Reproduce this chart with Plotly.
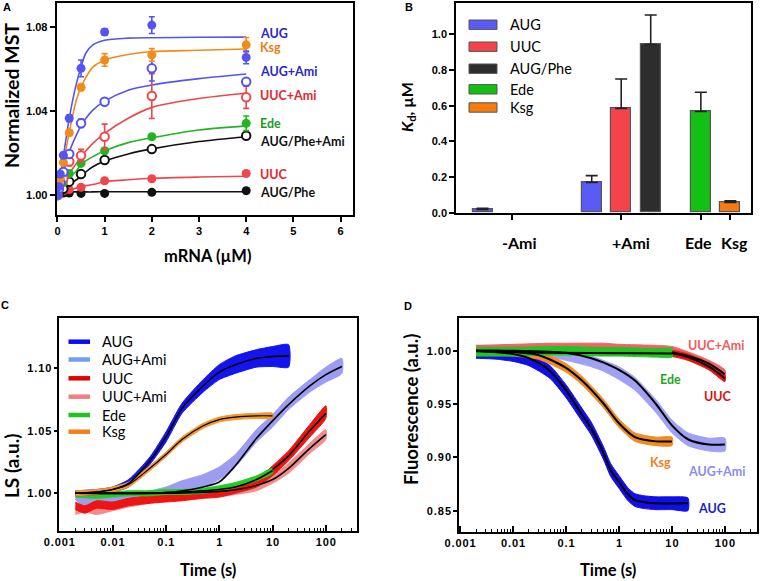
import plotly.graph_objects as go

W, H = 760, 581

# ---------------- Panel A data (MST titration) ----------------
conc = [0, 0.03, 0.06, 0.125, 0.25, 0.5, 1, 2, 4]
A_series = ["AUG", "Ksg", "AUG+Ami", "UUC+Ami", "Ede", "AUG/Phe+Ami", "UUC", "AUG/Phe"]
A_AUG = [1.000, 1.004, 1.010, 1.019, 1.0366, 1.0604, 1.0777, 1.0810, 1.0656]
A_AUG_err = [0.001, 0.001, 0.001, 0.001, 0.0015, 0.004, 0.0015, 0.004, 0.003]
A_Ksg = [1.000, 1.005, 1.008, 1.0156, 1.0297, 1.0514, 1.0644, 1.0668, 1.0716]
A_Ksg_err = [0.001, 0.001, 0.001, 0.001, 0.001, 0.0015, 0.003, 0.003, 0.0035]
A_AUGAmi = [1.000, 1.003, 1.006, 1.011, 1.0196, 1.0342, 1.0445, 1.0604, 1.0540]
A_AUGAmi_err = [0.001, 0.001, 0.001, 0.001, 0.001, 0.002, 0.0015, 0.006, 0.001]
A_UUCAmi = [1.000, 1.003, 1.006, 1.008, 1.0160, 1.0188, 1.0278, 1.0472, 1.0466]
A_UUCAmi_err = [0.001, 0.001, 0.001, 0.001, 0.002, 0.003, 0.006, 0.0107, 0.0053]
A_Ede = [1.000, 1.003, 1.005, 1.006, 1.0103, 1.0151, 1.0211, 1.0278, 1.0342]
A_Ede_err = [0.001, 0.001, 0.001, 0.001, 0.001, 0.001, 0.001, 0.001, 0.0035]
A_PheAmi = [1.000, 1.001, 1.002, 1.003, 1.0064, 1.0100, 1.0167, 1.0219, 1.0283]
A_PheAmi_err = [0.0005, 0.0005, 0.0005, 0.0005, 0.001, 0.001, 0.001, 0.001, 0.0015]
A_UUC = [1.000, 1.001, 1.0015, 1.002, 1.0026, 1.0037, 1.0068, 1.0078, 1.0103]
A_UUC_err = [0.0005, 0.0005, 0.0005, 0.0005, 0.0005, 0.0005, 0.0005, 0.0005, 0.0005]
A_Phe = [1.000, 1.0005, 1.001, 1.001, 1.001, 1.0008, 1.0008, 1.0013, 1.0021]
A_Phe_err = [0.0005, 0.0005, 0.0005, 0.0005, 0.0005, 0.0005, 0.0005, 0.0005, 0.0013]

fit_conc = [0, 0.1, 0.25, 0.4, 0.5, 0.6, 0.75, 1, 1.5, 2, 3, 4]
F_AUG = [1.000, 1.0145, 1.0366, 1.0530, 1.0610, 1.0676, 1.0716, 1.0738, 1.0748, 1.0750, 1.0752, 1.0753]
F_Ksg = [1.000, 1.0120, 1.0300, 1.0453, 1.0514, 1.0560, 1.0610, 1.0644, 1.0670, 1.0684, 1.0690, 1.0696]
F_AUGAmi = [1.000, 1.0085, 1.0205, 1.0286, 1.0330, 1.0365, 1.0405, 1.0448, 1.0500, 1.0525, 1.0555, 1.0577]
F_UUCAmi = [1.000, 1.0040, 1.0103, 1.0150, 1.0186, 1.0210, 1.0246, 1.0294, 1.0366, 1.0418, 1.0460, 1.0485]
F_Ede = [1.000, 1.0030, 1.0080, 1.0115, 1.0146, 1.0163, 1.0183, 1.0211, 1.0250, 1.0273, 1.0310, 1.0330]
F_PheAmi = [1.000, 1.0020, 1.0048, 1.0073, 1.0087, 1.0110, 1.0135, 1.0162, 1.0196, 1.0220, 1.0255, 1.0278]
F_UUC = [1.000, 1.0010, 1.0024, 1.0033, 1.0040, 1.0045, 1.0050, 1.0064, 1.0073, 1.0080, 1.0086, 1.0090]
F_Phe = [1.000, 1.0011, 1.0015, 1.0015, 1.0015, 1.0015, 1.0015, 1.0016, 1.0016, 1.0016, 1.0016, 1.0016]

# ---------------- Panel B data (Kd) ----------------
B_groups = ["-Ami", "+Ami", "Ede", "Ksg"]
B_series = ["AUG", "UUC", "AUG/Phe", "Ede", "Ksg"]
Kd_AUG = [0.018, 0.170]          # -Ami, +Ami
Kd_AUG_err = [0.007, 0.038]
Kd_UUC = [None, 0.585]
Kd_UUC_err = [None, 0.165]
Kd_Phe = [None, 0.943]
Kd_Phe_err = [None, 0.165]
Kd_Ede = [0.567]
Kd_Ede_err = [0.108]
Kd_Ksg = [0.058]
Kd_Ksg_err = [0.009]

# ---------------- Panel C data (light scattering) ----------------
C_t_AUG = [0.002, 0.005, 0.01, 0.02, 0.05, 0.1, 0.2, 0.5, 1, 2, 5, 10, 20]
C_AUG = [1.000, 1.001, 1.003, 1.008, 1.026, 1.045, 1.068, 1.086, 1.097, 1.103, 1.108, 1.1095, 1.110]
C_AUG_noise = [0.002, 0.002, 0.002, 0.003, 0.003, 0.004, 0.004, 0.005, 0.006, 0.007, 0.007, 0.008, 0.009]
C_t_Ksg = [0.002, 0.005, 0.01, 0.02, 0.05, 0.1, 0.2, 0.5, 1, 2, 5, 10]
C_Ksg = [1.000, 1.001, 1.003, 1.007, 1.020, 1.031, 1.043, 1.054, 1.059, 1.061, 1.062, 1.062]
C_Ksg_noise = [0.002, 0.002, 0.002, 0.002, 0.002, 0.002, 0.002, 0.002, 0.002, 0.002, 0.002, 0.002]
C_t_AUGAmi = [0.002, 0.003, 0.005, 0.01, 0.02, 0.05, 0.1, 0.2, 0.5, 1, 2, 5, 10, 20, 50, 100, 200]
C_AUGAmi = [0.998, 0.993, 0.995, 0.994, 0.996, 0.998, 1.001, 1.005, 1.010, 1.016, 1.026, 1.046, 1.058, 1.072, 1.086, 1.095, 1.102]
C_AUGAmi_noise = [0.003, 0.004, 0.004, 0.004, 0.004, 0.004, 0.004, 0.005, 0.005, 0.005, 0.005, 0.005, 0.005, 0.005, 0.005, 0.006, 0.006]
C_tfit_AUGAmi = [0.002, 0.1, 0.3, 0.5, 1, 2, 5, 10, 20, 50, 100, 200]
C_fit_AUGAmi = [1.000, 1.0005, 1.003, 1.005, 1.009, 1.022, 1.044, 1.058, 1.071, 1.086, 1.095, 1.1015]
C_t_UUC = [0.002, 0.003, 0.005, 0.01, 0.02, 0.05, 0.1, 0.2, 0.5, 1, 2, 5, 10, 20, 50, 100]
C_UUC = [0.990, 0.987, 0.991, 0.990, 0.993, 0.995, 0.996, 0.997, 0.999, 1.000, 1.003, 1.008, 1.018, 1.030, 1.050, 1.065]
C_UUC_noise = [0.003, 0.003, 0.003, 0.003, 0.003, 0.003, 0.003, 0.003, 0.003, 0.003, 0.003, 0.003, 0.004, 0.004, 0.005, 0.005]
C_tfit_UUC = [10, 20, 50, 100]
C_fit_UUC = [1.019, 1.030, 1.050, 1.064]
C_t_UUCAmi = [0.002, 0.003, 0.005, 0.01, 0.02, 0.05, 0.1, 0.2, 0.5, 1, 2, 5, 10, 20, 50, 100]
C_UUCAmi = [0.986, 0.988, 0.986, 0.989, 0.992, 0.995, 0.997, 0.998, 0.999, 1.000, 1.002, 1.005, 1.011, 1.020, 1.036, 1.047]
C_UUCAmi_noise = [0.003, 0.003, 0.003, 0.003, 0.003, 0.003, 0.003, 0.003, 0.003, 0.003, 0.003, 0.003, 0.003, 0.004, 0.004, 0.004]
C_tfit_UUCAmi = [0.002, 0.1, 1, 3, 10, 20, 50, 100]
C_fit_UUCAmi = [1.000, 1.000, 1.0015, 1.004, 1.011, 1.020, 1.036, 1.047]
C_t_Ede = [0.002, 0.005, 0.01, 0.02, 0.05, 0.1, 0.2, 0.5, 1, 2, 5, 10]
C_Ede = [0.999, 0.998, 0.999, 1.000, 1.000, 1.001, 1.001, 1.002, 1.004, 1.0066, 1.012, 1.018]
C_Ede_noise = [0.002, 0.002, 0.002, 0.002, 0.002, 0.002, 0.002, 0.002, 0.002, 0.002, 0.002, 0.002]
C_tfit_Ede = [0.002, 0.1, 0.5, 1, 2, 5, 10]
C_fit_Ede = [1.000, 1.0005, 1.002, 1.003, 1.005, 1.011, 1.018]

# ---------------- Panel D data (fluorescence) ----------------
D_t_AUG = [0.002, 0.005, 0.01, 0.02, 0.05, 0.1, 0.2, 0.3, 0.5, 0.7, 1, 1.5, 2, 3, 5, 10, 20]
D_AUG = [0.999, 0.998, 0.996, 0.992, 0.980, 0.962, 0.940, 0.927, 0.905, 0.888, 0.877, 0.865, 0.860, 0.858, 0.857, 0.857, 0.856]
D_AUG_noise = [0.006, 0.006, 0.006, 0.006, 0.006, 0.006, 0.006, 0.006, 0.006, 0.006, 0.006, 0.006, 0.006, 0.006, 0.006, 0.006, 0.006]
D_tfit_AUG = [0.002, 0.01, 0.02, 0.05, 0.1, 0.2, 0.3, 0.5, 0.7, 1, 1.5, 2, 3, 5, 20]
D_fit_AUG = [1.000, 0.997, 0.993, 0.981, 0.963, 0.940, 0.927, 0.905, 0.888, 0.877, 0.865, 0.860, 0.858, 0.857, 0.857]
D_t_Ksg = [0.002, 0.005, 0.01, 0.03, 0.1, 0.2, 0.5, 1, 2, 5, 10]
D_Ksg = [1.000, 1.000, 0.999, 0.996, 0.984, 0.972, 0.951, 0.932, 0.919, 0.915, 0.915]
D_Ksg_noise = [0.004, 0.004, 0.004, 0.004, 0.004, 0.004, 0.004, 0.004, 0.004, 0.004, 0.004]
D_t_AUGAmi = [0.002, 0.01, 0.05, 0.1, 0.3, 0.5, 1, 2, 5, 10, 20, 50, 100]
D_AUGAmi = [1.000, 0.999, 0.998, 0.996, 0.990, 0.986, 0.979, 0.969, 0.948, 0.929, 0.917, 0.912, 0.912]
D_AUGAmi_noise = [0.004, 0.004, 0.004, 0.005, 0.005, 0.005, 0.006, 0.006, 0.006, 0.006, 0.006, 0.006, 0.006]
D_fit_AUGAmi = [1.000, 1.000, 0.999, 0.998, 0.993, 0.989, 0.982, 0.972, 0.950, 0.930, 0.917, 0.912, 0.912]
D_t_Ede = [0.002, 0.01, 0.05, 0.1, 0.5, 1, 5, 10]
D_Ede = [0.999, 0.999, 1.000, 1.000, 0.999, 0.999, 0.998, 0.998]
D_Ede_noise = [0.004, 0.004, 0.004, 0.004, 0.004, 0.004, 0.004, 0.004]
D_tfit_Ede = [0.002, 0.05, 10]
D_fit_Ede = [0.9995, 0.998, 0.9975]
D_t_UUCAmi = [0.002, 0.01, 0.05, 0.1, 0.5, 1, 5, 10, 20, 50, 100]
D_UUCAmi = [1.001, 1.002, 1.003, 1.003, 1.003, 1.002, 1.001, 1.000, 0.995, 0.987, 0.978]
D_UUCAmi_noise = [0.004, 0.004, 0.004, 0.004, 0.004, 0.004, 0.004, 0.004, 0.004, 0.004, 0.004]
D_tfit_UUCAmi = [10, 20, 50, 100]
D_fit_UUCAmi = [0.9985, 0.995, 0.988, 0.978]
D_t_UUC = [0.002, 0.1, 1, 10, 20, 50, 100]
D_UUC = [1.000, 1.000, 0.999, 0.9975, 0.994, 0.985, 0.974]
D_UUC_noise = [0.003, 0.003, 0.003, 0.003, 0.003, 0.003, 0.003]
D_fit_UUC_t = [10, 20, 50, 100]
D_fit_UUC = [0.9975, 0.994, 0.985, 0.974]

log_ticks = [0.001, 0.01, 0.1, 1, 10, 100]
log_ticktext = ["0.001", "0.01", "0.1", "1", "10", "100"]
C_yticks = [1.00, 1.05, 1.10]
D_yticks = [0.85, 0.90, 0.95, 1.00]

# ---------------- styles ----------------
BLUE = "#5454f2"; ORANGE = "#f28a1c"; RED = "#f0464b"; GREEN = "#22b422"; BLACK = "#111111"
TXT_BLUE = "#2828c8"; TXT_ORANGE = "#e97f12"; TXT_RED = "#e3262c"; TXT_GREEN = "#1e9a1e"
TICKFONT = dict(family="Liberation Sans", size=11, color="black", weight="bold")
TITLEFONT = "Lato"
TS = "\u200a"  # hair space used to mimic the spaced tick digits of panels C and D


def spaced(s):
    return TS.join(list(s))


def px(x):
    return x / W


def py(y):
    return 1 - y / H


fig = go.Figure()

# ---------------- Panel A ----------------
A_specs = [
    (F_AUG, A_AUG, A_AUG_err, BLUE, False),
    (F_Ksg, A_Ksg, A_Ksg_err, ORANGE, False),
    (F_AUGAmi, A_AUGAmi, A_AUGAmi_err, BLUE, True),
    (F_UUCAmi, A_UUCAmi, A_UUCAmi_err, RED, True),
    (F_Ede, A_Ede, A_Ede_err, GREEN, False),
    (F_PheAmi, A_PheAmi, A_PheAmi_err, BLACK, True),
    (F_UUC, A_UUC, A_UUC_err, RED, False),
    (F_Phe, A_Phe, A_Phe_err, BLACK, False),
]
for fit, vals, err, col, is_open in A_specs:
    fig.add_trace(go.Scatter(x=fit_conc, y=fit, mode="lines", line=dict(color=col, width=1.6, shape="spline", smoothing=0.8),
                             xaxis="x", yaxis="y", showlegend=False, hoverinfo="skip"))
for fit, vals, err, col, is_open in reversed(A_specs):
    fig.add_trace(go.Scatter(
        x=conc, y=vals, mode="markers",
        marker=dict(symbol="circle", size=9 if not is_open else 8.5, color="white" if is_open else col,
                    line=dict(color=col, width=2 if is_open else 0)),
        error_y=dict(type="data", array=err, color=col, thickness=1.6, width=3),
        xaxis="x", yaxis="y", showlegend=False))

A_label_colors = [TXT_BLUE, TXT_ORANGE, TXT_BLUE, TXT_RED, TXT_GREEN, BLACK, TXT_RED, BLACK]
A_label_y = [1.0768, 1.0702, 1.0588, 1.0475, 1.0342, 1.0257, 1.0100, 1.0011]

# ---------------- Panel B ----------------
group_center = [1.9, 5.6, 8.3, 9.3]
slot = 1.0
bw = 0.68
B_specs = [
    ("AUG", Kd_AUG, Kd_AUG_err, [group_center[0] - slot, group_center[1] - slot], "#5a5af5"),
    ("UUC", Kd_UUC, Kd_UUC_err, [group_center[0], group_center[1]], "#f5434b"),
    ("AUG/Phe", Kd_Phe, Kd_Phe_err, [group_center[0] + slot, group_center[1] + slot], "#2d2d2d"),
    ("Ede", Kd_Ede, Kd_Ede_err, [group_center[2]], "#14c014"),
    ("Ksg", Kd_Ksg, Kd_Ksg_err, [group_center[3]], "#f57a10"),
]
for name, vals, err, xs, col in B_specs:
    fig.add_trace(go.Bar(
        x=xs, y=vals, width=bw, marker=dict(color=col, line=dict(color="#555555", width=1.2)),
        error_y=dict(type="data", symmetric=False, array=err, arrayminus=[0] * len(err), color="#222222",
                     thickness=1.6, width=6),
        xaxis="x2", yaxis="y2", showlegend=False))


# ---------------- Panel C ----------------
def band(t, c, n, col, xa, ya):
    up = [a + b for a, b in zip(c, n)]
    lo = [a - b for a, b in zip(c, n)]
    fig.add_trace(go.Scatter(x=list(t) + list(t)[::-1], y=up + lo[::-1], mode="lines", fill="toself",
                             fillcolor=col, line=dict(color=col, width=1, shape="spline", smoothing=0.6),
                             xaxis=xa, yaxis=ya, showlegend=False, hoverinfo="skip"))


def fitline(t, v, xa, ya, w=1.6):
    fig.add_trace(go.Scatter(x=t, y=v, mode="lines", line=dict(color="black", width=w, shape="spline", smoothing=0.8),
                             xaxis=xa, yaxis=ya, showlegend=False, hoverinfo="skip"))


C_cols = {"AUG": "#1414ee", "AUG+Ami": "#9c9cf2", "UUC": "#ee1414", "UUC+Ami": "#f28c8c",
          "Ede": "#22cc22", "Ksg": "#f5962a"}
band(C_t_AUGAmi, C_AUGAmi, C_AUGAmi_noise, C_cols["AUG+Ami"], "x3", "y3")
band(C_t_UUCAmi, C_UUCAmi, C_UUCAmi_noise, C_cols["UUC+Ami"], "x3", "y3")
band(C_t_UUC, C_UUC, C_UUC_noise, C_cols["UUC"], "x3", "y3")
band(C_t_Ede, C_Ede, C_Ede_noise, C_cols["Ede"], "x3", "y3")
band(C_t_AUG, C_AUG, C_AUG_noise, C_cols["AUG"], "x3", "y3")
band(C_t_Ksg, C_Ksg, C_Ksg_noise, C_cols["Ksg"], "x3", "y3")
fitline(C_tfit_AUGAmi, C_fit_AUGAmi, "x3", "y3")
fitline(C_tfit_UUCAmi, C_fit_UUCAmi, "x3", "y3")
fitline(C_tfit_UUC, C_fit_UUC, "x3", "y3")
fitline(C_tfit_Ede, C_fit_Ede, "x3", "y3")
fitline(C_t_AUG, C_AUG, "x3", "y3")
fitline(C_t_Ksg, C_Ksg, "x3", "y3", 1.2)

C_leg = ["AUG", "AUG+Ami", "UUC", "UUC+Ami", "Ede", "Ksg"]
C_leg_cols = ["#0a0aff", "#6fa0f0", "#e60000", "#f28080", "#21c121", "#f07f1a"]

# ---------------- Panel D ----------------
D_cols = {"AUG": "#1010e6", "AUG+Ami": "#a0a0f4", "UUC": "#e81414", "UUC+Ami": "#f26464",
          "Ede": "#22c422", "Ksg": "#f28c22"}
band(D_t_AUGAmi, D_AUGAmi, D_AUGAmi_noise, D_cols["AUG+Ami"], "x4", "y4")
band(D_t_AUG, D_AUG, D_AUG_noise, D_cols["AUG"], "x4", "y4")
band(D_t_Ksg, D_Ksg, D_Ksg_noise, D_cols["Ksg"], "x4", "y4")
band(D_t_UUCAmi, D_UUCAmi, D_UUCAmi_noise, D_cols["UUC+Ami"], "x4", "y4")
band(D_t_UUC, D_UUC, D_UUC_noise, D_cols["UUC"], "x4", "y4")
band(D_t_Ede, D_Ede, D_Ede_noise, D_cols["Ede"], "x4", "y4")
fitline(D_tfit_AUG, D_fit_AUG, "x4", "y4", 2)
fitline(D_t_Ksg, D_Ksg, "x4", "y4", 2)
fitline(D_t_AUGAmi, D_fit_AUGAmi, "x4", "y4", 2)
fitline(D_tfit_Ede, D_fit_Ede, "x4", "y4", 2)
fitline(D_tfit_UUCAmi, D_fit_UUCAmi, "x4", "y4", 2)
fitline(D_fit_UUC_t, D_fit_UUC, "x4", "y4", 2)

D_labels = ["UUC+Ami", "Ede", "UUC", "Ksg", "AUG+Ami", "AUG"]
D_label_cols = ["#f05a5a", "#1fa81f", "#dd1111", "#f0801e", "#8c8cee", "#1a1ad0"]
D_label_pos = [(686, 345), (658, 379), (701.5, 396.7), (648, 462.7), (686, 471.7), (696, 508.3)]

# ---------------- axes ----------------
base = dict(showgrid=False, zeroline=False, showline=True, linecolor="black", linewidth=1.6, mirror=True,
            tickfont=TICKFONT, ticks="outside", tickcolor="black", tickwidth=1.5, ticklen=5, automargin=False)
ov = dict(showgrid=False, zeroline=False, showline=False, showticklabels=False, ticks="inside",
          tickcolor="black", tickwidth=1.5, ticklen=5, automargin=False)

domA_x = [px(56.5), px(353.3)]; domA_y = [py(215), py(3.3)]
domB_x = [px(456), px(751)]; domB_y = [py(212.7), py(3.3)]
domC_x = [px(59.3), px(357.3)]; domC_y = [py(531), py(318.3)]
domD_x = [px(459), px(756.7)]; domD_y = [py(531.5), py(318.3)]

rangeA_x = [-0.02, 6.27]; rangeA_y = [0.9905, 1.0914]
rangeB_x = [0, 10]; rangeB_y = [0, 1.174]
rangeC_x = [-3, 2.59]; rangeC_y = [0.9698, 1.1401]
rangeD_x = [-3.02, 2.6]; rangeD_y = [0.8305, 1.0304]

logminor = dict(ticks="inside", ticklen=3, tickcolor="black", tickwidth=1.2, dtick="D1")

fig.update_layout(
    width=W, height=H, margin=dict(l=0, r=0, t=0, b=0, pad=0), paper_bgcolor="white", plot_bgcolor="white",
    showlegend=False, bargap=0,
    xaxis=dict(base, domain=domA_x, anchor="y", range=rangeA_x, tickvals=[0, 1, 2, 3, 4, 5, 6]),
    yaxis=dict(base, domain=domA_y, anchor="x", range=rangeA_y, tickvals=[1.00, 1.04, 1.08], tickformat=".2f"),
    xaxis5=dict(ov, overlaying="x", side="top", anchor="y", range=rangeA_x, tickvals=[0, 1, 2, 3, 4, 5, 6]),
    yaxis5=dict(ov, overlaying="y", side="right", anchor="x", range=rangeA_y, tickvals=[1.00, 1.04, 1.08]),

    xaxis2=dict(base, domain=domB_x, anchor="y2", range=rangeB_x, tickvals=group_center, showticklabels=False),
    yaxis2=dict(base, domain=domB_y, anchor="x2", range=rangeB_y, tickvals=[0, 0.2, 0.4, 0.6, 0.8, 1.0],
                tickformat=".1f"),
    yaxis6=dict(ov, overlaying="y2", side="right", anchor="x2", range=rangeB_y,
                tickvals=[0, 0.2, 0.4, 0.6, 0.8, 1.0]),

    xaxis3=dict(base, domain=domC_x, anchor="y3", type="log", range=rangeC_x, tickvals=log_ticks,
                ticktext=[spaced(s) for s in log_ticktext], ticks="inside", ticklen=6, minor=logminor),
    yaxis3=dict(base, domain=domC_y, anchor="x3", range=rangeC_y, tickvals=C_yticks,
                ticktext=[spaced(f"{v:.2f}") for v in C_yticks], ticklen=4),
    xaxis7=dict(ov, overlaying="x3", side="top", anchor="y3", type="log", range=rangeC_x, tickvals=log_ticks,
                ticklen=6, minor=logminor),
    yaxis7=dict(ov, overlaying="y3", side="right", anchor="x3", range=rangeC_y, tickvals=C_yticks),

    xaxis4=dict(base, domain=domD_x, anchor="y4", type="log", range=rangeD_x, tickvals=log_ticks,
                ticktext=[spaced(s) for s in log_ticktext], ticks="inside", ticklen=6, minor=logminor),
    yaxis4=dict(base, domain=domD_y, anchor="x4", range=rangeD_y, tickvals=D_yticks,
                ticktext=[spaced(f"{v:.2f}") for v in D_yticks], ticklen=4),
    xaxis8=dict(ov, overlaying="x4", side="top", anchor="y4", type="log", range=rangeD_x, tickvals=log_ticks,
                ticklen=6, minor=logminor),
    yaxis8=dict(ov, overlaying="y4", side="right", anchor="x4", range=rangeD_y, tickvals=D_yticks),
)

# ---------------- annotations ----------------
ann = []


def text(x, y, s, size, color="black", bold=True, family=TITLEFONT, angle=0, xanchor="center", xref="paper",
         yref="paper"):
    ann.append(dict(x=x, y=y, xref=xref, yref=yref, text=s, showarrow=False, textangle=angle, xanchor=xanchor,
                    yanchor="middle", font=dict(family=family, size=size, color=color,
                                                weight="bold" if bold else "normal")))


# panel letters
text(px(7), py(7), "A", 11, family="Liberation Sans")
text(px(409), py(7), "B", 11, family="Liberation Sans")
text(px(5), py(305), "C", 11, family="Liberation Sans")
text(px(408), py(306), "D", 11, family="Liberation Sans")

# axis titles
text(px(11), py(96), "Normalized MST", 19.5, angle=-90)
text(px(207), py(256), "mRNA (µM)", 16.5)
text(px(408), py(107), "<i>K</i><sub>d</sub>, µM", 16, angle=-90)
text(px(11), py(466), "LS (a.u.)", 19, angle=-90)
text(px(208), py(570), "Time (s)", 16.5)
text(px(411), py(409), "Fluorescence (a.u.)", 18.5, angle=-90)
text(px(608), py(570), "Time (s)", 16.5)

# panel A series labels
for name, col, yv in zip(A_series, A_label_colors, A_label_y):
    text(4.25, yv, name, 12.5, color=col, xanchor="left", xref="x", yref="y")

# panel B group labels
for g, xp in zip(B_groups, [519, 631, 698, 734]):
    text(px(xp), py(242), g, 16)

# panel B legend
B_leg_rows = [24.7, 46.7, 68.7, 89.3, 107.5]
shapes = []
for (name, vals, err, xs, col), yr in zip(B_specs, B_leg_rows):
    shapes.append(dict(type="rect", xref="paper", yref="paper", x0=px(469), x1=px(497), y0=py(yr + 4.7),
                       y1=py(yr - 4.7), fillcolor=col, line=dict(color="#555555", width=1)))
    text(px(508), py(yr), name, 14.5, bold=False, xanchor="left")

# panel C legend
C_leg_rows = [341.7, 359.5, 378.3, 396.7, 415, 431.7]
for name, col, yr in zip(C_leg, C_leg_cols, C_leg_rows):
    shapes.append(dict(type="line", xref="paper", yref="paper", x0=px(68.5), x1=px(90), y0=py(yr), y1=py(yr),
                       line=dict(color=col, width=4.5)))
    text(px(100), py(yr), name, 14.5, bold=False, xanchor="left")

# panel D labels
for name, col, (lx, ly) in zip(D_labels, D_label_cols, D_label_pos):
    text(px(lx), py(ly), name, 12.5, color=col, xanchor="left")

fig.update_layout(annotations=ann, shapes=shapes)
fig.write_html("out.html", config={"displayModeBar": False},
               post_script="document.body.style.margin='0';")
